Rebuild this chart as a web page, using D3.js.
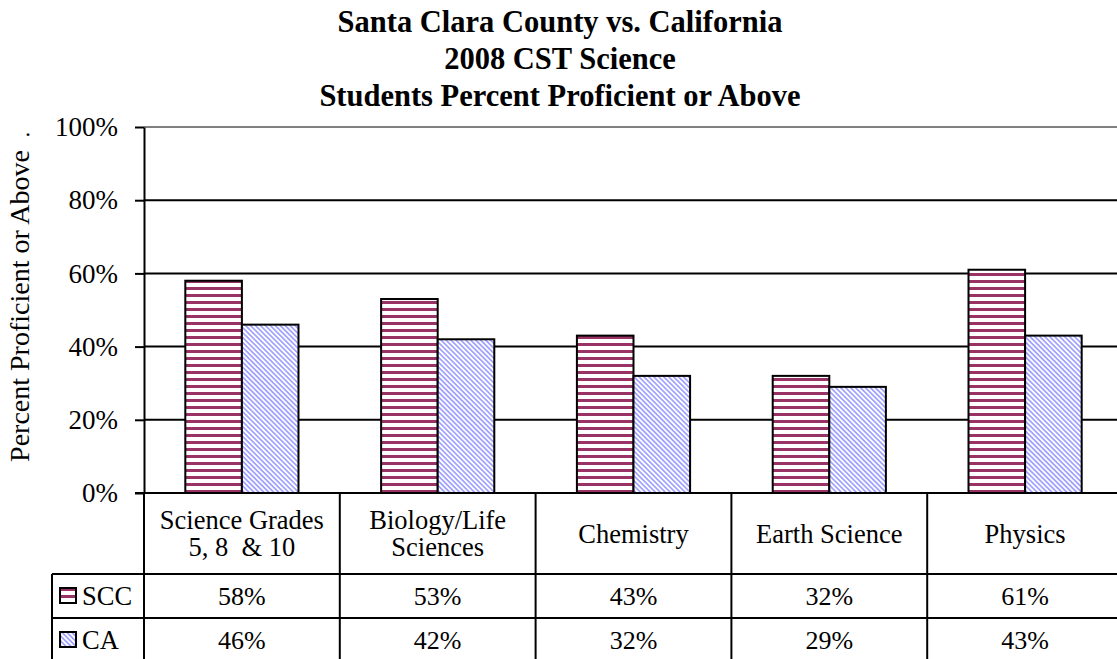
<!DOCTYPE html>
<html>
<head>
<meta charset="utf-8">
<script src="https://cdn.jsdelivr.net/npm/d3@7"></script>
<style>
  body { margin: 0; background: #fff; }
  svg { display: block; font-family: "Liberation Serif", "Times New Roman", serif; }
</style>
</head>
<body>
<div id="chart"></div>
<script>
// chart data
const categories = ["Science Grades\n5, 8  & 10", "Biology/Life\nSciences", "Chemistry", "Earth Science", "Physics"];
const series = ["SCC", "CA"];
const sccValues = [0.58, 0.53, 0.43, 0.32, 0.61];
const caValues = [0.46, 0.42, 0.32, 0.29, 0.43];
const yTicks = [0, 0.2, 0.4, 0.6, 0.8, 1.0];
const titleLines = ["Santa Clara County vs. California", "2008 CST Science", "Students Percent Proficient or Above"];

const W = 1117, H = 659;
const plot = {left: 144, right: 1123, top: 127, bottom: 493};
const rowH = [81, 44, 44];   // category row, SCC row, CA row
const legendLeft = 52;

const svg = d3.select("#chart").append("svg")
    .attr("width", W).attr("height", H);

// ---------------------------------------------------------------------------
// Fill patterns
// ---------------------------------------------------------------------------
const defs = svg.append("defs");

const pScc = defs.append("pattern")
    .attr("id", "pat-scc")
    .attr("patternUnits", "userSpaceOnUse")
    .attr("width", 8).attr("height", 7);
pScc.append("rect").attr("width", 8).attr("height", 7).attr("fill", "#fff");
pScc.append("rect").attr("y", 0).attr("width", 8).attr("height", 3).attr("fill", "#993366");

const pCa = defs.append("pattern")
    .attr("id", "pat-ca")
    .attr("patternUnits", "userSpaceOnUse")
    .attr("width", 8).attr("height", 3.5)
    .attr("patternTransform", "rotate(45)");
pCa.append("rect").attr("width", 8).attr("height", 3.5).attr("fill", "#fff");
pCa.append("rect").attr("width", 8).attr("height", 1.7).attr("fill", "#a0a0ff");

const fills = {SCC: "url(#pat-scc)", CA: "url(#pat-ca)"};

// ---------------------------------------------------------------------------
// Scales
// ---------------------------------------------------------------------------
const x = d3.scaleBand()
    .domain(categories)
    .range([plot.left, plot.right]);

const xSub = d3.scaleBand()
    .domain(series)
    .range([0, x.bandwidth()])
    .paddingInner(0)
    .paddingOuter(0.73);

const y = d3.scaleLinear()
    .domain([0, 1])
    .range([plot.bottom, plot.top]);

// ---------------------------------------------------------------------------
// Title
// ---------------------------------------------------------------------------
svg.append("g").selectAll("text")
    .data(titleLines)
    .join("text")
    .attr("x", 560)
    .attr("y", (d, i) => 32 + i * 37)
    .attr("text-anchor", "middle")
    .attr("font-size", 30.5)
    .attr("font-weight", "bold")
    .text(d => d);

// ---------------------------------------------------------------------------
// Gridlines
// ---------------------------------------------------------------------------
svg.append("g").selectAll("line")
    .data(yTicks.filter(d => d > 0))
    .join("line")
    .attr("x1", plot.left).attr("x2", plot.right)
    .attr("y1", d => y(d)).attr("y2", d => y(d))
    .attr("stroke", d => d === 1 ? "#808080" : "#000")
    .attr("stroke-width", 2);

// ---------------------------------------------------------------------------
// Bars
// ---------------------------------------------------------------------------
const rows = categories.map((c, i) => ({cat: c, SCC: sccValues[i], CA: caValues[i]}));

svg.append("g").selectAll("g")
    .data(rows)
    .join("g")
    .attr("transform", d => "translate(" + x(d.cat) + ",0)")
    .selectAll("rect")
    .data(d => series.map(s => ({s: s, v: d[s]})))
    .join("rect")
    .attr("x", d => xSub(d.s))
    .attr("y", d => y(d.v))
    .attr("width", xSub.bandwidth())
    .attr("height", d => y(0) - y(d.v))
    .attr("fill", d => fills[d.s])
    .attr("stroke", "#000")
    .attr("stroke-width", 2);

// ---------------------------------------------------------------------------
// Y axis
// ---------------------------------------------------------------------------
const yAxis = svg.append("g")
    .attr("transform", "translate(" + plot.left + ",0)")
    .call(d3.axisLeft(y)
        .tickValues(yTicks)
        .tickFormat(d3.format(".0%"))
        .tickSize(9)
        .tickSizeOuter(0)
        .tickPadding(17));
yAxis.select(".domain").attr("stroke", "#000").attr("stroke-width", 2);
yAxis.selectAll(".tick line").attr("stroke", "#000").attr("stroke-width", 2);
yAxis.selectAll(".tick text")
    .attr("font-family", "Liberation Serif, Times New Roman, serif")
    .attr("font-size", 27)
    .attr("fill", "#000");

svg.append("text")
    .attr("transform", "translate(29," + ((plot.top + plot.bottom) / 2 - 4) + ") rotate(-90)")
    .attr("text-anchor", "middle")
    .attr("font-size", 28)
    .text("Percent Proficient or Above");

svg.append("text")
    .attr("x", 28).attr("y", 136)
    .attr("text-anchor", "middle")
    .attr("font-size", 24)
    .text(".");

// ---------------------------------------------------------------------------
// Data table
// ---------------------------------------------------------------------------
const table = svg.append("g");
const rowTop = [plot.bottom, plot.bottom + rowH[0], plot.bottom + rowH[0] + rowH[1]];
const tableBottom = rowTop[2] + rowH[2];

// x axis line
table.append("line")
    .attr("x1", plot.left - 9).attr("x2", plot.right)
    .attr("y1", plot.bottom).attr("y2", plot.bottom)
    .attr("stroke", "#000").attr("stroke-width", 2);

// horizontal row borders
table.selectAll("line.h")
    .data([rowTop[1], rowTop[2], tableBottom])
    .join("line")
    .attr("class", "h")
    .attr("x1", legendLeft).attr("x2", plot.right)
    .attr("y1", d => d).attr("y2", d => d)
    .attr("stroke", "#000").attr("stroke-width", 2);

// vertical column borders
table.selectAll("line.v")
    .data(categories.concat(["end"]))
    .join("line")
    .attr("class", "v")
    .attr("x1", d => d === "end" ? plot.right : x(d))
    .attr("x2", d => d === "end" ? plot.right : x(d))
    .attr("y1", plot.bottom).attr("y2", tableBottom)
    .attr("stroke", "#000").attr("stroke-width", 2);

table.append("line")
    .attr("x1", legendLeft).attr("x2", legendLeft)
    .attr("y1", rowTop[1]).attr("y2", tableBottom)
    .attr("stroke", "#000").attr("stroke-width", 2);

// category labels
table.selectAll("text.cat")
    .data(categories)
    .join("text")
    .attr("class", "cat")
    .attr("text-anchor", "middle")
    .attr("font-size", 26.5)
    .each(function(d) {
        const lines = d.split("\n");
        const cy = rowTop[0] + rowH[0] / 2;
        const t = d3.select(this);
        lines.forEach((l, i) => {
            t.append("tspan")
                .attr("x", x(d) + x.bandwidth() / 2)
                .attr("y", cy + 9 + (i - (lines.length - 1) / 2) * 27)
                .style("white-space", "pre")
                .text(l);
        });
    });

// value rows
const valueRows = [{s: "SCC", vals: sccValues}, {s: "CA", vals: caValues}];
valueRows.forEach((r, ri) => {
    const cy = rowTop[ri + 1] + rowH[ri + 1] / 2;
    table.append("g").selectAll("text")
        .data(r.vals)
        .join("text")
        .attr("x", (d, i) => x(categories[i]) + x.bandwidth() / 2)
        .attr("y", cy + 9)
        .attr("text-anchor", "middle")
        .attr("font-size", 26)
        .text(d => d3.format(".0%")(d));

    table.append("rect")
        .attr("x", 60).attr("y", cy - 8)
        .attr("width", 16).attr("height", 15)
        .attr("fill", fills[r.s])
        .attr("stroke", "#000").attr("stroke-width", 2);

    table.append("text")
        .attr("x", 82).attr("y", cy + 9)
        .attr("font-size", 26.5)
        .text(r.s);
});
</script>
</body>
</html>
